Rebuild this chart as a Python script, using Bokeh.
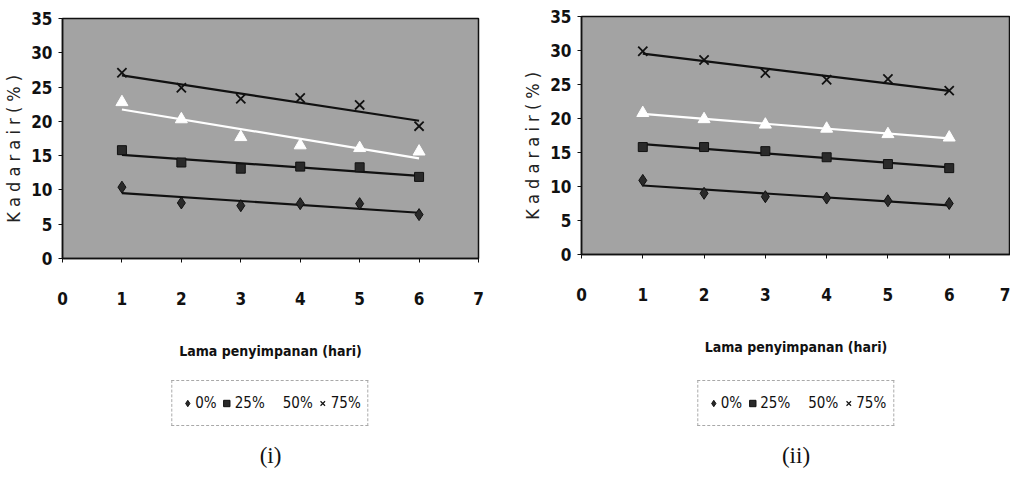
import numpy as np
from bokeh.plotting import figure
from bokeh.layouts import row, column
from bokeh.models import Legend, LegendItem, Label, FixedTicker, Range1d
from bokeh.embed import file_html
from bokeh.resources import INLINE

# ---- data ----
days = [1, 2, 3, 4, 5, 6]
series_names = ["0%", "25%", "50%", "75%"]

p1_0 = [10.4, 8.1, 7.7, 8.0, 8.0, 6.4]
p1_25 = [15.8, 14.0, 13.1, 13.4, 13.3, 11.9]
p1_50 = [22.8, 20.3, 17.7, 16.5, 16.1, 15.6]
p1_75 = [27.1, 24.9, 23.3, 23.4, 22.4, 19.3]

p2_0 = [10.9, 9.0, 8.5, 8.3, 7.9, 7.5]
p2_25 = [15.8, 15.8, 15.2, 14.3, 13.3, 12.7]
p2_50 = [20.8, 19.9, 19.1, 18.5, 17.7, 17.2]
p2_75 = [29.9, 28.6, 26.7, 25.7, 25.8, 24.1]

x_ticks = [0, 1, 2, 3, 4, 5, 6, 7]
y_ticks = [0, 5, 10, 15, 20, 25, 30, 35]
x_title = "Lama penyimpanan (hari)"
y_title = "K a d a r   a i r   ( % )"
panel_labels = ["(i)", "(ii)"]

NARROW = "DejaVu Sans Condensed"
SERIF = "Liberation Serif"

styles = [
    dict(marker="diamond", size=12, fill_color="#2a2a2a", line_color="#111111", line_width=1, trend="#111111"),
    dict(marker="square", size=9, fill_color="#2a2a2a", line_color="#111111", line_width=1, trend="#111111"),
    dict(marker="triangle", size=12, fill_color="#ffffff", line_color="#ffffff", line_width=1, trend="#ffffff"),
    dict(marker="x", size=13, fill_color="#111111", line_color="#111111", line_width=1.8, trend="#111111"),
]


def make_panel(series, label, left, right, top, frame_bottom):
    main_h = 372
    p = figure(width=505, height=main_h, x_range=Range1d(0, 7), y_range=Range1d(0, 35),
               output_backend="svg", toolbar_location=None,
               min_border_left=left, min_border_right=right,
               min_border_top=top, min_border_bottom=main_h - frame_bottom)
    p.background_fill_color = "#a3a3a3"
    p.border_fill_color = "white"
    p.outline_line_color = "#111111"
    p.outline_line_width = 1.5
    p.grid.visible = False

    p.xaxis.ticker = FixedTicker(ticks=x_ticks)
    p.yaxis.ticker = FixedTicker(ticks=y_ticks)
    for ax in (p.xaxis, p.yaxis):
        ax.minor_tick_line_color = None
        ax.axis_line_color = "#111111"
        ax.axis_line_width = 1.5
        ax.major_tick_line_color = "#111111"
        ax.major_tick_in = 0
        ax.major_tick_out = 4
        ax.major_label_text_font = NARROW
        ax.major_label_text_font_size = "17px"
        ax.major_label_text_font_style = "bold"
        ax.major_label_text_color = "#111111"
    p.xaxis.major_label_standoff = 29
    p.yaxis.major_label_standoff = 6

    p.xaxis.axis_label = x_title
    p.xaxis.axis_label_text_font = NARROW
    p.xaxis.axis_label_text_font_size = "14px"
    p.xaxis.axis_label_text_font_style = "bold"
    p.xaxis.axis_label_text_color = "#111111"
    p.xaxis.axis_label_standoff = 35

    p.yaxis.axis_label = y_title
    p.yaxis.axis_label_text_font = NARROW
    p.yaxis.axis_label_text_font_size = "18px"
    p.yaxis.axis_label_text_font_style = "normal"
    p.yaxis.axis_label_text_color = "#222222"
    p.yaxis.axis_label_standoff = 4

    xs = np.array(days, dtype=float)
    for name, vals, st in zip(series_names, series, styles):
        k, b = np.polyfit(xs, np.array(vals, dtype=float), 1)
        p.line([xs[0], xs[-1]], [k * xs[0] + b, k * xs[-1] + b],
               line_color=st["trend"], line_width=2.2)
    for name, vals, st in zip(series_names, series, styles):
        p.scatter(days, vals, marker=st["marker"], size=st["size"],
                  fill_color=st["fill_color"], line_color=st["line_color"],
                  line_width=st["line_width"])

    # legend / caption strip below the chart
    leg_h = 478 - main_h
    q = figure(width=505, height=leg_h, x_range=Range1d(0, 1), y_range=Range1d(0, 1),
               output_backend="svg", toolbar_location=None,
               min_border_left=left, min_border_right=right,
               min_border_top=0, min_border_bottom=0)
    q.xaxis.visible = False
    q.yaxis.visible = False
    q.grid.visible = False
    q.outline_line_color = None
    q.background_fill_color = "white"
    items = []
    for name, st in zip(series_names, styles):
        # sample glyph placed outside the visible range: only its legend swatch shows
        r = q.scatter(x=[-5], y=[-5], marker=st["marker"], size=st["size"],
                      fill_color=st["fill_color"], line_color=st["line_color"],
                      line_width=1.2 if st["marker"] == "x" else 1)
        items.append(LegendItem(label=name, renderers=[r]))
    legend = Legend(items=items, orientation="horizontal", location="top_center",
                    border_line_color="#555555", border_line_dash="4 2", border_line_width=1,
                    background_fill_color="white", background_fill_alpha=1,
                    label_text_font=NARROW, label_text_font_size="15px",
                    label_text_color="#111111",
                    glyph_width=16, glyph_height=30, label_standoff=0,
                    spacing=2, padding=7, margin=8)
    q.add_layout(legend)
    q.add_layout(Label(x=0.5, y=0.22, text=label, text_font=SERIF, text_font_size="23px",
                       text_align="center", text_baseline="middle", text_color="#111111"))
    return column(p, q, spacing=0)


c1 = make_panel([p1_0, p1_25, p1_50, p1_75], panel_labels[0],
                left=57, right=27, top=18, frame_bottom=258)
c2 = make_panel([p2_0, p2_25, p2_50, p2_75], panel_labels[1],
                left=76, right=0, top=16, frame_bottom=254)

layout = row(c1, c2, spacing=0)
open("out.html", "w").write(file_html(layout, INLINE))
